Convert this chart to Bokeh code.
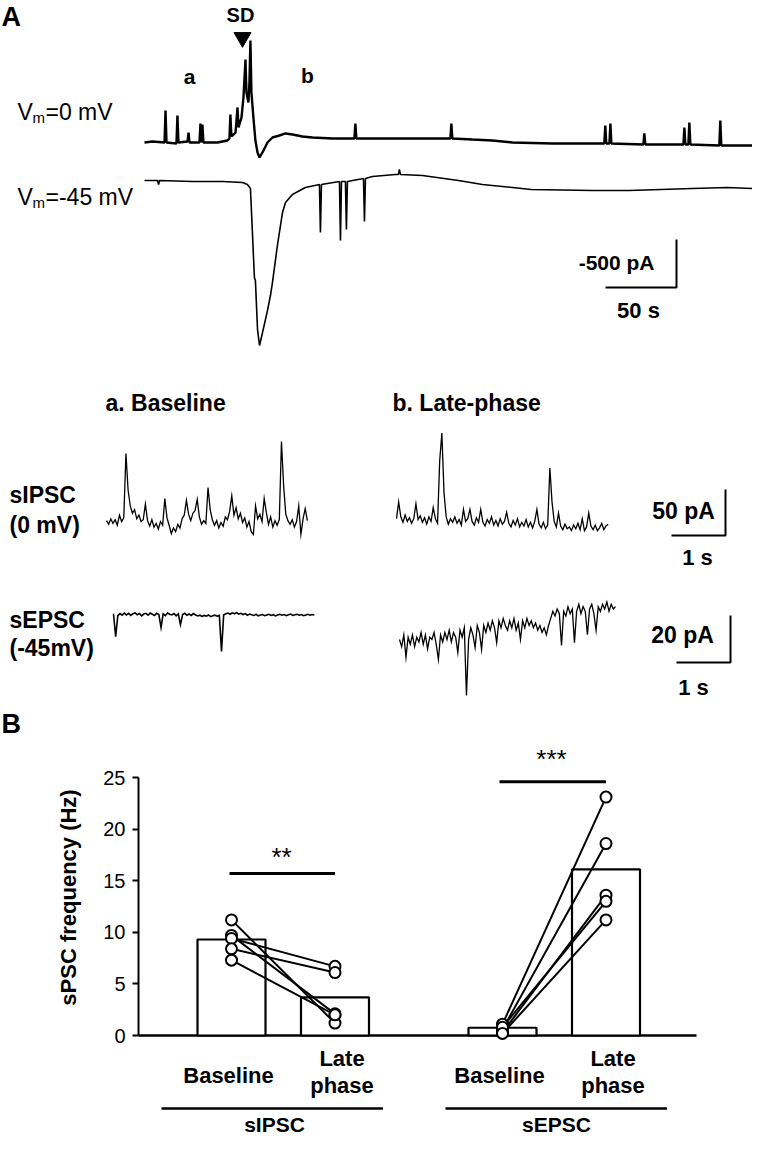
import numpy as np
from bokeh.plotting import figure
from bokeh.models import Range1d, FixedTicker, LinearAxis
from bokeh.core.properties import value
from bokeh.embed import file_html
from bokeh.resources import INLINE

FONT = "Liberation Sans"

# ------------------------------------------------------------------ data
# Panel A: whole-cell currents around the spreading depolarization (time s, current pA)
trace_0mV_t = [0, 5.6, 14.1, 14.8, 15.5, 22.5, 23.2, 23.9, 30.3, 31.0, 31.7, 38.7, 39.4, 40.1,
               40.8, 41.5, 51.4, 58.4, 59.8, 60.5, 61.2, 64.1, 65.5, 66.2, 68.3, 69.7, 71.1,
               71.8, 73.2, 73.9, 74.6, 75.3, 76.7, 78.1, 79.6, 81.0, 83.1, 86.6, 90.1, 95.0,
               99.3, 104.2, 111.2, 118.3, 132.4, 147.8, 148.5, 149.2, 174.6, 202.8, 215.4,
               216.1, 216.8, 230.9, 245.0, 259.1, 287.2, 315.4, 323.8, 324.5, 325.2, 327.4,
               328.1, 328.8, 351.3, 352.0, 352.7, 379.5, 380.2, 380.9, 383.0, 383.7, 384.4,
               404.8, 405.5, 406.2, 417.5, 428.0]
trace_0mV_pA = [0, 10, 0, 333, 0, -10, 281, 0, 10, 104, 0, 0, 198, 0,
                188, 0, 0, 21, 42, 292, 63, 104, 365, 156, 260, 469, 865,
                521, 417, 625, 1063, 521, 260, 21, -104, -156, -104, 0, 52, 73,
                94, 83, 63, 52, 42, 42, 198, 42, 42, 42, 42,
                198, 42, 31, 21, 0, -10, -10, -10, 177, -10, -10,
                198, -10, -21, 94, -21, -21, 156, -21, -21, 208, -21,
                -31, 229, -31, -31, -31]

trace_m45mV_t = [0, 9.2, 9.9, 10.6, 33.8, 54.9, 69.0, 72.5, 74.6, 76.0, 77.4, 78.1, 79.6,
                 81.0, 83.1, 86.6, 88.0, 88.7, 90.1, 93.6, 97.2, 99.3, 104.2, 113.3, 123.2,
                 123.9, 124.6, 137.3, 138.0, 138.7, 141.5, 142.2, 142.9, 154.2, 154.9, 155.6,
                 160.5, 176.7, 178.8, 179.5, 180.2, 195.7, 221.1, 238.0, 259.1, 272.4, 315.4,
                 341.4, 385.8, 410.4, 428.0]
trace_m45mV_pA = [0, 0, -42, 0, -10, -10, -21, -42, -83, -542, -1011, -1042, -1553,
                  -1719, -1584, -1355, -1250, -1198, -1063, -677, -333, -229, -146, -73, -42,
                  -542, -42, -10, -625, -10, -10, -511, -10, 21, -427, 21,
                  42, 63, 63, 115, 63, 52, 0, -42, -73, -94, -104,
                  -104, -83, -73, -83]

snip_dt = 0.04  # s between samples of the expanded traces
sipsc_baseline_pA = [2, -2, 4, -1, 3, -3, 8, 1, 5, 75, 35, 18, 10, 14, 4, 8, 1, 3, 20, 2,
                     -4, 3, -5, -1, -7, 1, -3, 26, 5, -3, -12, -6, -10, -2, -6, 4, 8, 24, 9, 2,
                     10, 13, 25, 6, -2, 2, -1, 38, 14, 3, -3, 2, -6, 0, -4, 6, 3, 12, 29, 8,
                     16, 4, 10, 0, 5, -5, 1, -10, -13, 18, 4, 9, 1, 26, 11, -2, 6, -5, 2, -3,
                     3, 88, 40, 9, 2, -2, 3, -5, 1, 18, -13, 4, 15, 2]
sipsc_late_pA = [2, 20, 4, -2, 6, -1, 3, -3, 2, 18, 1, 5, -2, 3, -4, 4, -1, 14, 2, -3,
                 65, 95, 30, 4, -4, 2, -2, 4, -3, 1, -5, 12, -1, 2, 12, -1, -5, 3, -2, 12,
                 -2, -6, 1, -3, 4, -5, 0, -6, 2, -4, -1, 9, -3, -7, 0, -5, 2, -7, -2, -6,
                 1, -7, -2, -8, -1, 12, -4, -8, -2, -9, -5, 57, 20, -1, -7, 8, -6, -10, -4, -9,
                 -7, -11, -5, -9, -3, -10, 2, -11, -7, 8, -6, -10, -5, -11, -8, -3, -10, -6, -4]
sepsc_baseline_pA = [0.3, -9.4, -0.5, 0.4, -0.3, 0.6, -0.2, 0.5, -0.4, 0.3,
                     0.7, -0.1, 0.4, -0.6, 0.2, 0.5, -0.3, 0.6, 0.1, -0.4,
                     0.5, 0.0, -5.5, 0.3, -0.5, 0.6, 0.1, -0.2, 0.4, -0.6,
                     0.3, -4.3, 0.0, 0.5, -0.3, 0.2, -0.4, 0.4, -0.2, -0.6,
                     -0.3, -0.8, -0.4, -0.7, -0.2, -0.9, -0.5, -0.3, -0.7, -0.4,
                     -15.7, -0.2, 0.3, 0.6, 0.1, 0.7, 0.3, 0.8, 0.2, 0.5,
                     0.0, 0.4, -0.3, 0.2, -0.1, -0.4, 0.1, -0.6, -0.2, 0.0,
                     -0.5, -0.2, 0.1, -0.4, -0.1, -0.6, -0.2, 0.1, -0.3, 0.0,
                     -0.5, -0.1, 0.2, -0.4, -0.1, 0.1, -0.3, 0.0, -0.5, -0.2,
                     0.1, -0.3, 0.0, -0.2]
sepsc_late_pA = [-3, -6, -1, -10.6, -2, -5, -1, -6, -2, -4,
                 0, -5, -1, -7, -2, -3, 0, -5, -11.5, -1,
                 -4, 0, -3, 1, -4, 0, -2, -8.5, 1, -2,
                 2, -26.8, -3, 2, -1, -6.4, 3, 0, -7.2, 3,
                 0, 4, 1, 5, 2, -4.3, 5, 2, 6, 3,
                 1, 5, 2, 6, 1, 4, -3, 5, 2, 6,
                 3, 5, 2, 4, 1, 3, 0, 2, -1, 3,
                 6, 9, 7, 10, 8, -5.5, 9, 7, 11, 8,
                 10, -4.3, 9, 12, 8, 11, 9, -0.9, 10, 12,
                 8, 0.9, 11, 9, 12, 10, 13, 9, 12, 10, 11]

# Panel B: frequency (Hz)
groups = ["sIPSC", "sEPSC"]
phases = ["Baseline", "Late phase"]
mean_hz = [9.3, 3.7, 0.75, 16.1]
sipsc_baseline_hz = [11.2, 9.7, 9.4, 8.4, 7.3]
sipsc_late_hz = [1.2, 2.1, 6.7, 6.1, 2.0]
sepsc_baseline_hz = [1.1, 0.6, 0.3, 0.8, 0.2]
sepsc_late_hz = [23.1, 18.6, 13.6, 13.0, 11.2]
y_ticks = [0, 5, 10, 15, 20, 25]

# ------------------------------------------------------------------ layout
W, H = 752, 1139
X0, X1 = 8, 8 + W          # page x of the frame
Y0, Y1 = 8, 8 + H          # page y of the frame


def xr(px0, v0, per_px):
    return Range1d(v0 + (X0 - px0) * per_px, v0 + (X1 - px0) * per_px)


def yr(py0, v0, per_px):
    return Range1d(v0 - (Y1 - py0) * per_px, v0 + (py0 - Y0) * per_px)


LONG_S_PX = 50 / 71
LONG_PA_PX = 500 / 48
SNIP_S_PX = 1 / 54
IPSC_PA_PX = 50 / 46
EPSC_PA_PX = 20 / 47
HZ_PX = 1 / 10.32
BX_PX = 1 / 100
GROUP_STEP, PHASE_STEP = 2.71, 1.035

p = figure(width=W, height=H, x_range=Range1d(X0, X1), y_range=Range1d(Y1, Y0),
           output_backend="svg", toolbar_location=None, x_axis_type=None, y_axis_type=None,
           min_border=0, outline_line_color=None)
p.extra_x_ranges = {"t_long": xr(152, 0, LONG_S_PX), "t_snip": xr(8, 0, SNIP_S_PX),
                    "bx": xr(239, 0, BX_PX)}
p.extra_y_ranges = {"i_long": yr(150, 0, LONG_PA_PX),
                    "i_ipsc": yr(530, 0, IPSC_PA_PX),
                    "i_epsc": yr(622, 0, EPSC_PA_PX),
                    "hz": yr(1043, 0, HZ_PX)}

# long traces
p.line(trace_0mV_t, trace_0mV_pA, x_range_name="t_long", y_range_name="i_long",
       line_color="black", line_width=2.4)
off_45 = -(188 - 150) * LONG_PA_PX
p.line(trace_m45mV_t, np.array(trace_m45mV_pA) + off_45, x_range_name="t_long",
       y_range_name="i_long", line_color="black", line_width=1.6)
ct, ci = (684 - 152) * LONG_S_PX, -(295 - 150) * LONG_PA_PX
p.line([ct - 50, ct, ct], [ci, ci, ci + 500], x_range_name="t_long", y_range_name="i_long",
       line_color="black", line_width=2)


def snip(vals, px_start, rng, off=0.0, lw=1.3):
    t0 = (px_start - 8) * SNIP_S_PX
    t = t0 + np.arange(len(vals)) * snip_dt
    p.line(t, np.array(vals) + off, x_range_name="t_snip", y_range_name=rng,
           line_color="black", line_width=lw, line_join="miter")


snip(sipsc_baseline_pA, 114, "i_ipsc")
snip(sipsc_late_pA, 404, "i_ipsc", off=(530 - 528) * IPSC_PA_PX)
snip(sepsc_baseline_pA, 121, "i_epsc", lw=1.6)
snip(sepsc_late_pA, 407, "i_epsc", off=-(640 - 622) * EPSC_PA_PX)

ct, ci = (733 - 8) * SNIP_S_PX, -(543 - 530) * IPSC_PA_PX
p.line([ct - 1, ct, ct], [ci, ci, ci + 50], x_range_name="t_snip", y_range_name="i_ipsc",
       line_color="black", line_width=2)
ct, ci = (738 - 8) * SNIP_S_PX, -(670 - 622) * EPSC_PA_PX
p.line([ct - 1, ct, ct], [ci, ci, ci + 20], x_range_name="t_snip", y_range_name="i_epsc",
       line_color="black", line_width=2)


def txt(x, y, s, size, bold=True, align="left", angle=0.0, xn="default", yn="default"):
    p.text(x=[x], y=[y], text=[s], text_font=value(FONT), text_font_size=f"{size}px",
           text_font_style="bold" if bold else "normal", text_align=align,
           text_baseline="middle", text_color="black", angle=angle,
           x_range_name=xn, y_range_name=yn)


txt(9, 24, "A", 27)
txt(9, 731, "B", 27)
txt(248, 22, "SD", 20, align="center")
p.scatter(x=[250], y=[45], marker="inverted_triangle", size=17, color="black")
txt(197, 84, "a", 21, align="center")
txt(315, 83, "b", 21, align="center")

for ylab, rest in [(119, "=0 mV"), (204, "=-45 mV")]:
    txt(25, ylab, "V", 23, bold=False)
    txt(40, ylab + 6, "m", 15, bold=False)
    txt(53, ylab, rest, 23, bold=False)

txt(662, 270, "-500 pA", 21, align="right")
txt(646, 318, "50 s", 22, align="center")

txt(113, 410, "a. Baseline", 23)
txt(400, 410, "b. Late-phase", 23)
txt(17, 502, "sIPSC", 23)
txt(17, 532, "(0 mV)", 23)
txt(17, 627, "sEPSC", 23)
txt(17, 655, "(-45mV)", 23)
txt(691, 518, "50 pA", 23, align="center")
txt(705, 565, "1 s", 22, align="center")
txt(690, 642, "20 pA", 23, align="center")
txt(701, 695, "1 s", 22, align="center")

# ------------------------------------------------------------------ panel B
ax = LinearAxis(y_range_name="hz", fixed_location=146, bounds=(0, 25),
                ticker=FixedTicker(ticks=y_ticks))
ax.minor_tick_line_color = None
ax.major_tick_out = 6
ax.major_tick_in = 0
ax.axis_line_width = 2
ax.major_tick_line_width = 2
ax.major_label_text_font = FONT
ax.major_label_text_font_size = "20px"
ax.major_label_standoff = 7
ax.major_label_text_color = "black"
p.add_layout(ax, "left")

B = dict(x_range_name="bx", y_range_name="hz")
xpos = [gi * GROUP_STEP + pi * PHASE_STEP for gi in range(len(groups)) for pi in range(len(phases))]
left_edge, right_edge = (146 - 239) * BX_PX, (704 - 239) * BX_PX
p.line([left_edge, right_edge], [0, 0], line_color="black", line_width=2.5, **B)

p.vbar(x=xpos, top=mean_hz, bottom=0, width=0.68, fill_color="white",
       line_color="black", line_width=2.2, **B)
for gi, base, late in [(0, sipsc_baseline_hz, sipsc_late_hz), (1, sepsc_baseline_hz, sepsc_late_hz)]:
    xb, xl = gi * GROUP_STEP, gi * GROUP_STEP + PHASE_STEP
    n = len(base)
    p.segment(x0=[xb] * n, y0=base, x1=[xl] * n, y1=late, line_color="black", line_width=2, **B)
    p.scatter(x=[xb] * n, y=base, size=11, marker="circle", fill_color="white",
              line_color="black", line_width=2, **B)
    p.scatter(x=[xl] * n, y=late, size=11, marker="circle", fill_color="white",
              line_color="black", line_width=2, **B)

# significance bars
p.segment(x0=[0 - 0.02, GROUP_STEP - 0.03], y0=[15.7, 24.6],
          x1=[PHASE_STEP, GROUP_STEP + PHASE_STEP], y1=[15.7, 24.6],
          line_color="black", line_width=3, **B)
txt(0.5, 17.3, "**", 26, bold=False, align="center", xn="bx", yn="hz")
txt(GROUP_STEP + 0.49, 26.8, "***", 26, bold=False, align="center", xn="bx", yn="hz")

for gi, g in enumerate(groups):
    xb, xl = gi * GROUP_STEP, gi * GROUP_STEP + PHASE_STEP
    txt(xb - 0.03, -3.9, "Baseline", 22, align="center", xn="bx", yn="hz")
    txt(xl + 0.07, -2.25, "Late", 22, align="center", xn="bx", yn="hz")
    txt(xl + 0.07, -4.85, "phase", 22, align="center", xn="bx", yn="hz")
p.segment(x0=[-0.70, GROUP_STEP - 0.57], y0=[-7.07, -7.07],
          x1=[PHASE_STEP + 0.48, GROUP_STEP + PHASE_STEP + 0.61], y1=[-7.07, -7.07],
          line_color="black", line_width=2.5, **B)
txt(0.43, -8.6, "sIPSC", 21, align="center", xn="bx", yn="hz")
txt(GROUP_STEP + 0.54, -8.6, "sEPSC", 21, align="center", xn="bx", yn="hz")

txt(76, 905, "sPSC frequency (Hz)", 22, align="center", angle=np.pi / 2)

open("out.html", "w").write(file_html(p, INLINE))
